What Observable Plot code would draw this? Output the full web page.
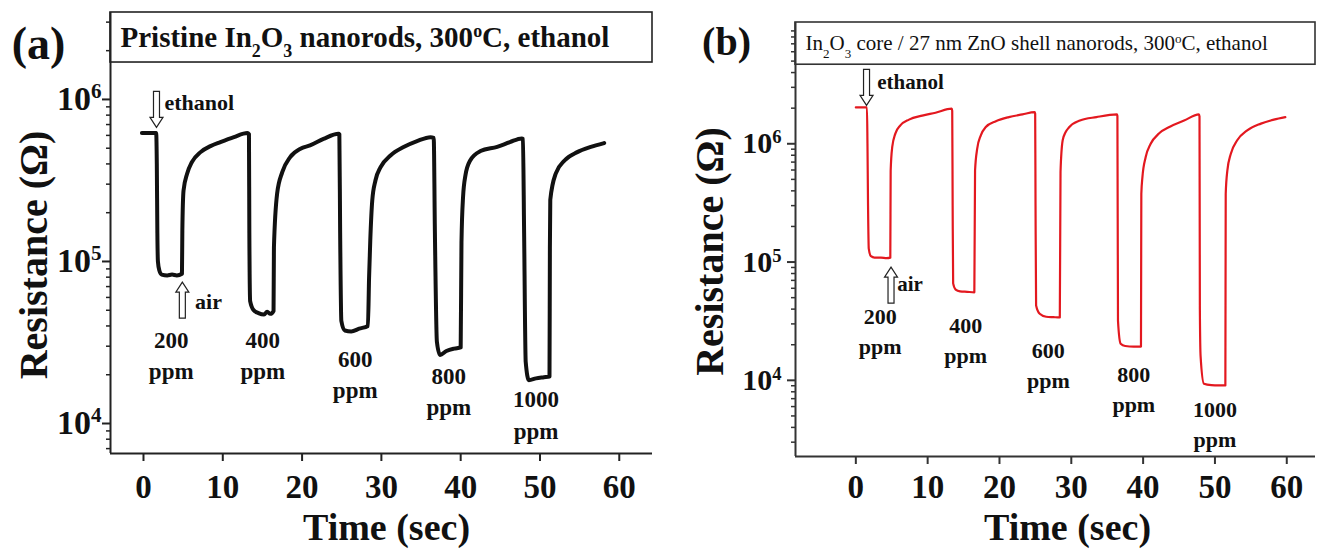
<!DOCTYPE html>
<html>
<head>
<meta charset="utf-8">
<script src="https://cdn.jsdelivr.net/npm/d3@7"></script>
<script src="https://cdn.jsdelivr.net/npm/@observablehq/plot@0.6"></script>
<style>
  html, body { margin: 0; padding: 0; background: #fff; }
  #row { display: flex; width: 1317px; height: 549px; overflow: hidden; }
  #row > div { flex: none; }
</style>
</head>
<body>
<div id="row"><div id="pa"></div><div id="pb"></div></div>
<script>
// ---------------- data ----------------
// Panel (a): pristine In2O3 nanorods
const timeA = [-0.2, 1.6, 1.68, 1.75, 1.82, 2.0, 2.3, 3.0, 3.6, 4.2, 4.85,
  4.9, 5.05, 5.5, 6.1, 7.2, 8.45, 9.7, 11.4, 13.1,
  13.3, 13.35, 13.45, 13.9, 14.5, 15.2, 15.6, 16.0, 16.4,
  16.45, 16.85, 17.5, 18.5, 19.8, 21.0, 22.7, 24.6,
  24.7, 24.8, 24.95, 25.4, 26.2, 27.2, 28.3,
  28.45, 28.6, 28.85, 29.25, 29.9, 31.15, 32.8, 34.5, 36.2,
  36.6, 36.75, 37.0, 37.4, 38.2, 39.2, 40.0,
  40.1, 40.3, 40.6, 41.2, 42.5, 44.6, 46.2, 47.7,
  47.85, 48.0, 48.2, 48.6, 49.5, 50.5, 51.2,
  51.25, 51.3, 52.0, 53.1, 54.7, 56.3, 58.1];
const resA = [6.2e5, 6.2e5, 4.0e5, 1.5e5, 1.0e5, 8.8e4, 8.3e4, 8.2e4, 8.3e4, 8.2e4, 8.4e4,
  1.55e5, 2.74e5, 3.48e5, 4.1e5, 4.73e5, 5.15e5, 5.45e5, 5.85e5, 6.2e5,
  6.1e5, 1.5e5, 5.7e4, 5.0e4, 4.8e4, 4.7e4, 4.9e4, 4.75e4, 4.95e4,
  1.22e5, 2.62e5, 3.56e5, 4.41e5, 4.97e5, 5.2e5, 5.71e5, 6.14e5,
  6.1e5, 1.5e5, 4.3e4, 3.75e4, 3.7e4, 3.85e4, 4.0e4,
  8.0e4, 1.35e5, 2.38e5, 3.16e5, 3.82e5, 4.51e5, 5.08e5, 5.53e5, 5.85e5,
  5.8e5, 1.5e5, 3.2e4, 2.65e4, 2.8e4, 2.9e4, 2.95e4,
  1.3e5, 2.5e5, 3.4e5, 4.2e5, 4.8e5, 5.1e5, 5.45e5, 5.75e5,
  5.7e5, 1.5e5, 2.4e4, 1.85e4, 1.9e4, 1.93e4, 1.95e4,
  1.2e5, 2.4e5, 3.5e5, 4.2e5, 4.73e5, 5.08e5, 5.38e5];

// Panel (b): In2O3 core / ZnO shell nanorods
const timeB = [0.0, 1.55, 1.62, 1.7, 1.8, 2.1, 2.6, 3.5, 4.3, 4.8,
  4.85, 5.07, 5.5, 6.2, 7.4, 9.25, 11.1, 13.35,
  13.42, 13.48, 13.55, 13.9, 14.5, 15.5, 16.5,
  16.6, 16.9, 17.4, 18.06, 19.5, 21.3, 23.2, 24.9,
  24.97, 25.02, 25.1, 25.6, 26.5, 27.5, 28.4,
  28.5, 28.8, 29.2, 29.7, 31.2, 33.5, 36.35,
  36.42, 36.5, 36.87, 37.5, 38.7, 39.7,
  39.75, 39.9, 40.35, 41.05, 42.2, 43.8, 45.7, 47.77,
  47.85, 47.9, 48.0, 48.47, 49.5, 50.5, 51.45,
  51.5, 51.73, 52.2, 53.1, 54.5, 56.4, 58.2, 59.8];
const resB = [2.03e6, 2.03e6, 1.0e6, 3.0e5, 1.3e5, 1.12e5, 1.09e5, 1.09e5, 1.08e5, 1.09e5,
  5.9e5, 9.4e5, 1.22e6, 1.43e6, 1.6e6, 1.73e6, 1.83e6, 1.98e6,
  1.9e6, 3.0e5, 6.6e4, 5.85e4, 5.65e4, 5.6e4, 5.55e4,
  5.95e5, 9.1e5, 1.18e6, 1.38e6, 1.55e6, 1.68e6, 1.77e6, 1.85e6,
  1.8e6, 3.0e5, 4.3e4, 3.66e4, 3.45e4, 3.42e4, 3.4e4,
  5.8e5, 1.07e6, 1.25e6, 1.38e6, 1.57e6, 1.68e6, 1.77e6,
  1.72e6, 3.2e4, 2.04e4, 1.95e4, 1.93e4, 1.93e4,
  3.78e5, 5.2e5, 7.7e5, 1.0e6, 1.22e6, 1.4e6, 1.57e6, 1.77e6,
  1.7e6, 4.0e4, 1.6e4, 9.35e3, 9.1e3, 9.05e3, 9.06e3,
  3.78e5, 5.95e5, 8.2e5, 1.07e6, 1.3e6, 1.48e6, 1.6e6, 1.68e6];

// concentration labels
const ppmLabels = ["200\nppm", "400\nppm", "600\nppm", "800\nppm", "1000\nppm"];
const ppmTimeA = [3.5, 15.05, 26.7, 38.5, 49.5];
const ppmResA = [2.7e4, 2.7e4, 2.07e4, 1.63e4, 1.16e4];
const ppmTimeB = [3.4, 15.3, 26.8, 38.7, 50.0];
const ppmResB = [2.69e4, 2.26e4, 1.4e4, 8.7e3, 4.4e3];

// gas switching arrows (tip positions) and their words
const arrowDir = ["down", "up"];
const arrowWords = ["ethanol", "air"];
const arrowTimeA = [1.64, 4.9];
const arrowResA = [6.72e5, 7.45e4];
const wordTimeA = [2.65, 6.5];
const wordResA = [9.45e5, 5.61e4];
const arrowTimeB = [1.49, 4.9];
const arrowResB = [2.11e6, 9.06e4];
const wordTimeB = [2.98, 5.77];
const wordResB = [3.32e6, 6.47e4];

// axes
const xTicks = [0, 10, 20, 30, 40, 50, 60];
const yTicks = [1e4, 1e5, 1e6];
const titleA = "Pristine In_{2}O_{3} nanorods, 300^{o}C, ethanol";
const titleB = "In_{2}O_{3} core / 27 nm ZnO shell nanorods, 300^{o}C, ethanol";

// ---------------- helpers ----------------
const FONT = "'Liberation Serif', 'Times New Roman', 'DejaVu Serif', serif";
const ns = "http://www.w3.org/2000/svg";
function rich(svg) {
  svg.querySelectorAll("text").forEach(el => {
    if (el.querySelector("tspan")) return;
    const s = el.textContent;
    if (!/[\^_]\{/.test(s)) return;
    el.textContent = "";
    const re = /([\^_])\{([^}]*)\}|([^\^_]+)/g;
    let m;
    while ((m = re.exec(s))) {
      const t = document.createElementNS(ns, "tspan");
      if (m[3] !== undefined) t.textContent = m[3];
      else {
        t.textContent = m[2];
        t.style.fontSize = "0.62em";
        t.setAttribute("baseline-shift", m[1] === "^" ? "super" : "sub");
      }
      el.appendChild(t);
    }
  });
}
function minorTicks(lo, hi) {
  const out = [];
  for (let e = Math.floor(Math.log10(lo)); e <= Math.ceil(Math.log10(hi)); e++)
    for (let k = 2; k <= 9; k++) { const v = k * 10 ** e; if (v >= lo && v <= hi) out.push(v); }
  return out;
}
const arrowSymbol = dir => ({
  draw(ctx) {
    const L = 36, hw = 6.5, sw = 3, hh = 10, s = dir === "down" ? -1 : 1;
    ctx.moveTo(0, 0);
    ctx.lineTo(-hw, s * hh);
    ctx.lineTo(-sw, s * hh);
    ctx.lineTo(-sw, s * L);
    ctx.lineTo(sw, s * L);
    ctx.lineTo(sw, s * hh);
    ctx.lineTo(hw, s * hh);
    ctx.closePath();
  }
});

function panel(cfg) {
  const series = cfg.time.map((t, i) => ({t, r: cfg.res[i]}));
  const ppm = ppmLabels.map((l, i) => ({l, t: cfg.ppmT[i], r: cfg.ppmR[i]}));
  const arrows = arrowDir.map((d, i) => ({d, t: cfg.arT[i], r: cfg.arR[i]}));
  const words = arrowWords.map((w, i) => ({w, t: cfg.wT[i], r: cfg.wR[i]}));
  const [x0, x1] = cfg.xDomain, [y0, y1] = cfg.yDomain;
  const svg = Plot.plot({
    width: cfg.width, height: 549,
    marginLeft: cfg.ml, marginRight: cfg.mr, marginTop: cfg.mt, marginBottom: cfg.mb,
    x: {domain: cfg.xDomain},
    y: {type: "log", domain: cfg.yDomain},
    style: {fontFamily: FONT, background: "#fff", color: cfg.axisColor, overflow: "visible"},
    marks: [
      Plot.rect([0], {x1: () => x0, x2: () => x1, y1: () => cfg.boxBottom, y2: () => y1,
        fill: "#fff", stroke: cfg.axisColor, strokeWidth: 1.6}),
      Plot.text([cfg.title], {frameAnchor: "top-left", textAnchor: "start", lineAnchor: "middle",
        dx: cfg.titleDx, dy: cfg.titleDy, fontSize: cfg.titleSize, fontWeight: cfg.titleWeight, fill: "#111"}),
      Plot.ruleX([x0], {strokeWidth: 2}),
      Plot.ruleY([y0], {strokeWidth: 2}),
      Plot.axisX(xTicks, {tickSize: 8, tickPadding: cfg.xPad, fontSize: 33, fontWeight: "bold",
        label: null, strokeWidth: 2, fill: "#111"}),
      Plot.axisY(minorTicks(y0, y1), {tickSize: 4, tickFormat: () => "", label: null, strokeWidth: 1.5}),
      Plot.axisY(yTicks, {tickSize: 8, tickPadding: cfg.yPad, fontSize: cfg.yFont, fontWeight: "bold",
        label: null, strokeWidth: 2, fill: "#111", tickFormat: d => "10^{" + Math.round(Math.log10(d)) + "}"}),
      Plot.lineY(series, {x: "t", y: "r", stroke: cfg.color, strokeWidth: cfg.lw, curve: "monotone-x"}),
      Plot.dot(arrows.filter(a => a.d === "down"), {x: "t", y: "r", symbol: arrowSymbol("down"),
        fill: "#fff", stroke: "#222", strokeWidth: 1.2}),
      Plot.dot(arrows.filter(a => a.d === "up"), {x: "t", y: "r", symbol: arrowSymbol("up"),
        fill: "#fff", stroke: "#222", strokeWidth: 1.2}),
      Plot.text(words, {x: "t", y: "r", text: "w", textAnchor: "start", fontSize: cfg.wordSize, fontWeight: "bold", fill: "#111"}),
      Plot.text(ppm, {x: "t", y: "r", text: "l", fontSize: cfg.ppmSize, fontWeight: "bold", lineHeight: cfg.ppmLH, fill: "#111"}),
      Plot.text([cfg.tag], {frameAnchor: "top-left", textAnchor: "middle", lineAnchor: "middle",
        dx: cfg.tagDx, dy: cfg.tagDy, fontSize: cfg.tagSize, fontWeight: "bold", fill: "#111"}),
      Plot.text(["Time (sec)"], {frameAnchor: "bottom", textAnchor: "middle", lineAnchor: "middle",
        dx: cfg.timeDx, dy: cfg.timeDy, fontSize: 38, fontWeight: "bold", fill: "#111"}),
      Plot.text(["Resistance (Ω)"], {frameAnchor: "left", textAnchor: "middle", lineAnchor: "middle", rotate: -90,
        dx: cfg.resDx, dy: cfg.resDy, fontSize: 40, fontWeight: "bold", fill: "#111"})
    ]
  });
  rich(svg);
  return svg;
}

document.getElementById("pa").appendChild(panel({
  width: 659, ml: 110, mr: 7, mt: 12, mb: 96,
  xDomain: [-4.16, 64.19], yDomain: [6530, 3.44e6], boxBottom: 1.69e6,
  time: timeA, res: resA, color: "#111", lw: 4, axisColor: "#222",
  ppmT: ppmTimeA, ppmR: ppmResA, ppmSize: 23, ppmLH: 1.35, wordSize: 22,
  arT: arrowTimeA, arR: arrowResA, wT: wordTimeA, wR: wordResA,
  title: titleA, titleDx: 10, titleDy: 25, titleSize: 29, titleWeight: "bold",
  xPad: 13, yPad: 1, yFont: 34,
  tag: "(a)", tagDx: -72, tagDy: 32, tagSize: 46,
  timeDx: 5, timeDy: 74, resDx: -76, resDy: 22
}));
document.getElementById("pb").appendChild(panel({
  width: 658, ml: 136, mr: 2, mt: 22, mb: 93,
  xDomain: [-8.4, 64.0], yDomain: [2270, 1.06e7], boxBottom: 4.66e6,
  time: timeB, res: resB, color: "#e3181f", lw: 2.2, axisColor: "#333",
  ppmT: ppmTimeB, ppmR: ppmResB, ppmSize: 22, ppmLH: 1.38, wordSize: 21,
  arT: arrowTimeB, arR: arrowResB, wT: wordTimeB, wR: wordResB,
  title: titleB, titleDx: 10, titleDy: 21, titleSize: 21, titleWeight: "normal",
  xPad: 10, yPad: 6, yFont: 30,
  tag: "(b)", tagDx: -69, tagDy: 20, tagSize: 40,
  timeDx: 12, timeDy: 71, resDx: -85, resDy: 12
}));
</script>
</body>
</html>
